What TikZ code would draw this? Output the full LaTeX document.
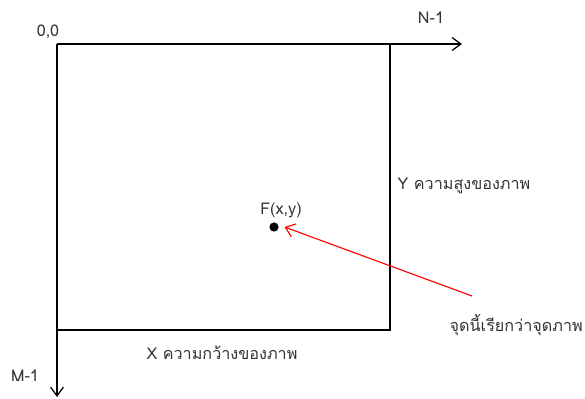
\documentclass[tikz,border=0pt]{standalone}
\usepackage{fontspec}
\setmainfont{Loma}[Script=Thai]
\usetikzlibrary{positioning, arrows.meta}

\begin{document}
\begin{tikzpicture}[
    x=0.025cm, y=-0.025cm,
    font=\fontsize{11.5pt}{13pt}\selectfont,
    axis/.style={-{Straight Barb[length=2.2mm, width=3.2mm]}, line width=0.9pt},
    frame/.style={line width=0.9pt},
    pointer/.style={-{Straight Barb[length=2.2mm, width=3.4mm]}, line width=0.8pt, draw=red},
    label/.style={inner sep=1pt, text=black!80}
]
\useasboundingbox (0,0) rectangle (585,399);

% === AXES ===
\coordinate (origin) at (57,44);
\coordinate (xend) at (462,44);
\coordinate (yend) at (57,397);
\draw [axis] (origin) -- (xend);
\draw [axis] (origin) -- (yend);

\node (zero) [label] at (48,32) {0,0};
\node (ncol) [label] at (431,18) {N-1};
\node (mrow) [label] at (25,376) {M-1};

% === IMAGE FRAME ===
\coordinate (topright) at (390,44);
\coordinate (botleft) at (57,330);
\coordinate (botright) at (390,330);
\draw [frame] (topright) -- (botright) -- (botleft);

\node (height) [label, anchor=west] at (396,186) {Y ความสูงของภาพ};
\node (width) [label] at (222,353) {X ความกว้างของภาพ};

% === PIXEL ===
\node (pixel) [circle, fill=black, inner sep=0pt, minimum size=2.3mm] at (274,227) {};
\node (fxy) [label] at (281,210) {F(x,y)};
\coordinate (tail) at (472,296);
\draw [pointer] (tail) -- ([xshift=4pt]pixel.east);

\node (note) [label, anchor=west] at (448,325) {จุดนี้เรียกว่าจุดภาพ};

\end{tikzpicture}
\end{document}
